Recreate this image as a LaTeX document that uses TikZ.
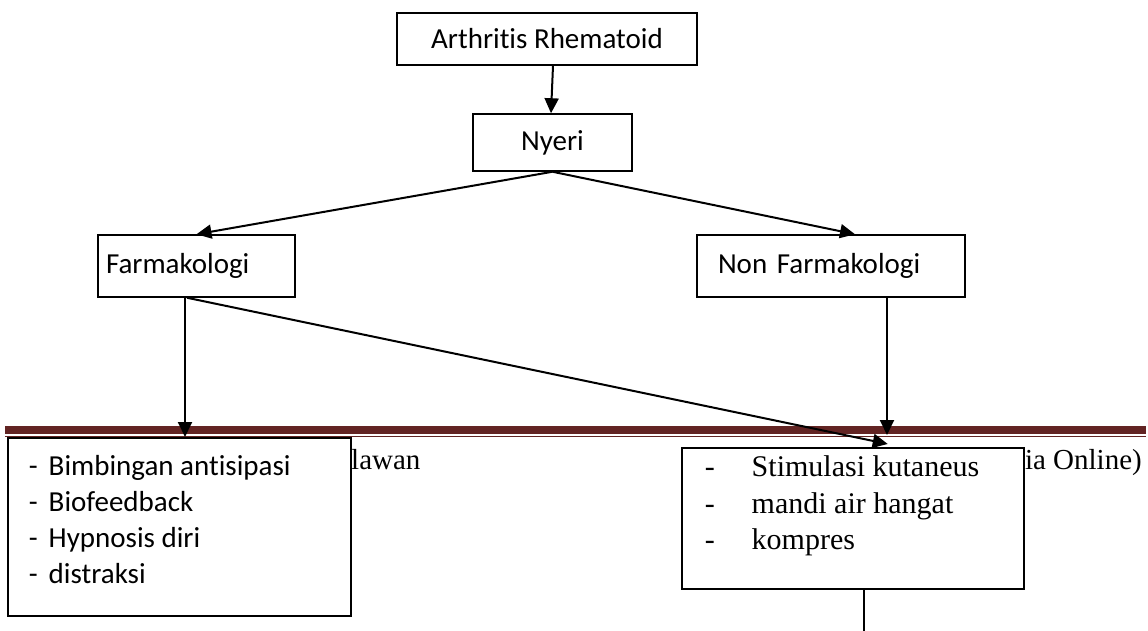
\documentclass[tikz,border=0pt]{standalone}
\usepackage{fontspec}
\setmainfont[Ligatures=NoCommon]{Carlito}
\newfontfamily\serifx{Liberation Serif}
\usetikzlibrary{arrows.meta}
\definecolor{maroon}{HTML}{622423}
\begin{document}
\begin{tikzpicture}[x=1pt,y=-1pt,
  box/.style={draw=black,line width=1.5pt,fill=white,inner sep=0pt,
    font=\fontsize{29}{36}\selectfont},
  conn/.style={line width=2pt,-{Triangle[length=15pt,width=14pt]}},
  plain/.style={line width=2pt},
  bgtext/.style={inner sep=0pt,font=\serifx\fontsize{29}{36}\selectfont}]
\useasboundingbox (0,0) rectangle (1148,631);
% page rule
\fill[maroon] (5,426) rectangle (1146,434);
\fill[maroon] (5,435.5) rectangle (1146,437);
% background page text
\node[bgtext,anchor=base west] (bgl) at (351,469) {lawan};
\node[bgtext,anchor=base east] (bgr) at (1142,469) {ia Online)};
% boxes
\node[box,minimum width=300pt,minimum height=52pt] (top) at (547,39) {Arthritis Rhematoid};
\node[box,minimum width=159pt,minimum height=57pt] (nyeri) at (552.5,142.5) {Nyeri};
\node[box,minimum width=197pt,minimum height=62pt,text width=185pt,align=left,inner xsep=6pt] (farm) at (196.5,266) {\hspace*{2pt}Farmakologi};
\node[box,minimum width=268pt,minimum height=62pt,text width=248pt,align=left,inner xsep=10pt] (nonfarm) at (831,266) {\hspace*{11pt}Non Farmakologi};
\node[box,anchor=north west] (leftbox) at (7,437) {\parbox[c][178pt][t]{343pt}{\vspace*{18pt}%
  \hspace*{21pt}\makebox[20pt][l]{-}Bimbingan antisipasi\\
  \hspace*{21pt}\makebox[20pt][l]{-}Biofeedback\\
  \hspace*{21pt}\makebox[20pt][l]{-}Hypnosis diri\\
  \hspace*{21pt}\makebox[20pt][l]{-}distraksi}};
\node[box,anchor=north west,font=\serifx\fontsize{30}{36.5}\selectfont] (rightbox) at (681,447) {\parbox[c][141pt][t]{342pt}{\vspace*{8pt}%
  \hspace*{23pt}\makebox[47pt][l]{-}Stimulasi kutaneus\\
  \hspace*{23pt}\makebox[47pt][l]{-}mandi air hangat\\
  \hspace*{23pt}\makebox[47pt][l]{-}kompres}};
% free ends
\coordinate (nfend) at (887,435);
\coordinate (rbend) at (864,631);
% connectors
\draw[conn] ([xshift=6pt]top.south) -- ([xshift=-1.5pt]nyeri.north);
\draw[conn] (nyeri.south) -- (farm.north);
\draw[conn] (nyeri.south) -- ([xshift=24pt]nonfarm.north);
\draw[conn] ([xshift=-11.5pt]farm.south) -- ([xshift=-11.5pt]farm.south |- leftbox.north);
\draw[conn] ([xshift=-9.5pt]farm.south) -- ([xshift=35pt,yshift=3pt]rightbox.north);
\draw[conn] (nonfarm.south -| nfend) -- (nfend);
\draw[plain] (rightbox.south -| rbend) -- (rbend);
\end{tikzpicture}
\end{document}
